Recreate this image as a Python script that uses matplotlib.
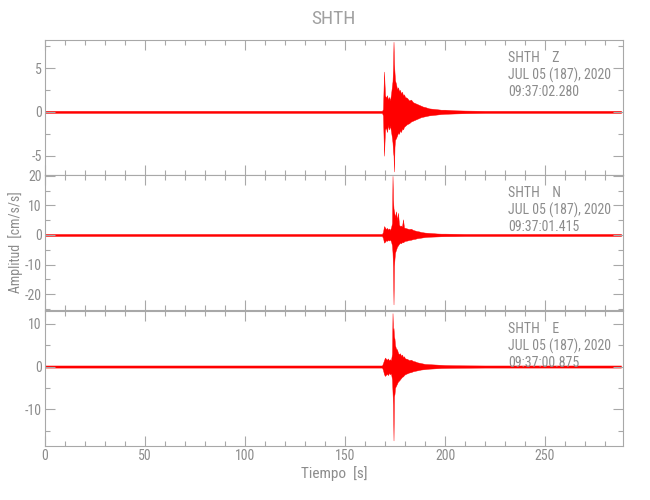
import numpy as np
import matplotlib
matplotlib.use("Agg")
import matplotlib.pyplot as plt
from matplotlib.ticker import MultipleLocator

plt.rcParams['font.family'] = ['Roboto Condensed', 'Liberation Sans Narrow', 'DejaVu Sans']
plt.rcParams['font.stretch'] = 'condensed'
plt.rcParams['axes.unicode_minus'] = False

# envelope del registro (min / max por intervalo)
tiempo = [0, 168.5, 169.0, 169.5, 170.0, 170.5, 171, 171.5, 172, 172.5, 173, 173.5,
          173.75, 174.0, 174.25, 174.5, 174.75, 175.0, 175.5, 176, 176.5, 177, 177.5,
          178, 178.5, 179, 179.5, 180, 181, 182, 183, 184, 185, 186, 187, 188, 189,
          190, 192, 194, 196, 198, 200, 205, 210, 220, 288]

z_max = [0.12, 0.12, 0.3, 4.6, 1.9, 1.6, 1.9, 1.4, 1.7, 1.3, 2.0, 3.0,
         3.5, 5.0, 8.0, 5.5, 4.5, 3.6, 3.2, 2.6, 2.8, 2.4, 2.5,
         2.1, 2.3, 1.9, 2.0, 1.7, 1.6, 1.3, 1.4, 1.1, 1.0, 0.9, 0.8, 0.7, 0.6,
         0.55, 0.4, 0.35, 0.3, 0.25, 0.25, 0.18, 0.15, 0.12, 0.12]
z_min = [-0.12, -0.12, -0.4, -5.0, -2.0, -1.8, -2.3, -1.5, -2.0, -1.6, -2.2, -3.0,
         -3.5, -4.5, -5.0, -6.8, -4.0, -3.2, -3.0, -2.7, -2.4, -2.5, -2.1,
         -2.3, -1.9, -2.0, -1.7, -1.6, -1.4, -1.3, -1.1, -1.0, -0.9, -0.8, -0.7, -0.6, -0.55,
         -0.5, -0.4, -0.35, -0.3, -0.25, -0.22, -0.18, -0.15, -0.12, -0.12]

n_max = [0.35, 0.35, 1.0, 3.0, 2.5, 2.0, 2.4, 1.8, 2.2, 1.7, 2.5, 4.0,
         20.0, 12.0, 9.0, 8.0, 7.0, 6.0, 8.0, 5.0, 7.5, 3.5, 3.0,
         3.2, 2.8, 5.3, 2.5, 2.4, 2.2, 2.0, 2.1, 1.7, 1.5, 1.3, 1.2, 1.0, 0.9,
         0.8, 0.7, 0.6, 0.5, 0.45, 0.45, 0.4, 0.35, 0.35, 0.35]
n_min = [-0.35, -0.35, -1.0, -2.6, -2.3, -1.8, -2.0, -1.6, -1.9, -1.5, -2.2, -3.5,
         -6.0, -11.0, -23.5, -10.5, -8.0, -6.0, -5.0, -4.0, -3.5, -3.0, -2.6,
         -2.8, -2.4, -2.5, -2.2, -2.0, -1.9, -1.7, -1.6, -1.4, -1.3, -1.1, -1.0, -0.9, -0.8,
         -0.7, -0.6, -0.55, -0.5, -0.45, -0.42, -0.4, -0.35, -0.35, -0.35]

e_max = [0.25, 0.25, 0.8, 1.5, 2.1, 1.8, 1.6, 1.9, 1.4, 1.7, 1.5, 3.0,
         12.5, 8.5, 9.0, 7.0, 6.5, 5.0, 4.2, 4.0, 3.2, 2.9, 3.1,
         2.5, 2.8, 2.2, 2.4, 1.9, 1.8, 1.5, 1.6, 1.3, 1.2, 1.0, 0.9, 0.8, 0.7,
         0.6, 0.55, 0.5, 0.45, 0.4, 0.35, 0.3, 0.28, 0.25, 0.25]
e_min = [-0.25, -0.25, -0.8, -1.8, -2.2, -1.9, -1.7, -2.0, -1.5, -1.8, -1.6, -3.0,
         -6.0, -9.0, -17.3, -7.0, -6.4, -5.0, -4.5, -4.0, -3.5, -3.3, -3.0,
         -2.7, -2.4, -2.3, -2.0, -1.8, -1.6, -1.4, -1.3, -1.1, -1.0, -0.9, -0.8, -0.7, -0.65,
         -0.6, -0.5, -0.45, -0.4, -0.35, -0.33, -0.3, -0.28, -0.25, -0.25]

componentes = ['Z', 'N', 'E']
horas = ['09:37:02.280', '09:37:01.415', '09:37:00.875']
limites = [(-7.2, 8.2), (-25.4, 20.3), (-18.6, 13.0)]
mayores = [5, 10, 10]
menores = [2.5, 5, 5]

gris = '#8c8c8c'
fig = plt.figure(figsize=(6.5, 5), dpi=100)
fondos = [0.65, 0.38, 0.108]
datos = [(z_min, z_max), (n_min, n_max), (e_min, e_max)]

for i in range(3):
    ax = fig.add_axes([0.0692, fondos[i], 0.8893, 0.27])
    lo, hi = datos[i]
    ax.fill_between(tiempo, lo, hi, color='red', linewidth=0.3, edgecolor='red')
    ax.set_xlim(0, 289)
    ax.set_ylim(*limites[i])
    ax.xaxis.set_major_locator(MultipleLocator(50))
    ax.xaxis.set_minor_locator(MultipleLocator(10))
    ax.yaxis.set_major_locator(MultipleLocator(mayores[i]))
    ax.yaxis.set_minor_locator(MultipleLocator(menores[i]))
    ax.tick_params(which='both', direction='in', top=True, right=True,
                   color='#a8a8a8', labelcolor=gris, labelsize=10, width=0.8, pad=2.5)
    ax.tick_params(which='major', length=7)
    ax.tick_params(which='minor', length=3.5)
    for s in ax.spines.values():
        s.set_color('#a8a8a8')
        s.set_linewidth(0.8)
    if i < 2:
        ax.tick_params(labelbottom=False)
    else:
        ax.set_xlabel('Tiempo  [s]', color=gris, fontsize=11, labelpad=2)
    if i == 1:
        ax.set_ylabel('Amplitud  [cm/s/s]', color=gris, fontsize=10)
        ax.yaxis.set_label_coords(-0.038, 0.5)
    ax.text(0.801, 0.865, 'SHTH    ' + componentes[i], transform=ax.transAxes,
            color=gris, fontsize=10, va='center')
    ax.text(0.801, 0.74, 'JUL 05 (187), 2020', transform=ax.transAxes,
            color=gris, fontsize=10, va='center')
    ax.text(0.801, 0.615, horas[i], transform=ax.transAxes,
            color=gris, fontsize=10, va='center')

fig.text(0.513, 0.963, 'SHTH', color='#a0a0a0', fontsize=14, ha='center', va='center')

plt.savefig('out.png', dpi=100)
